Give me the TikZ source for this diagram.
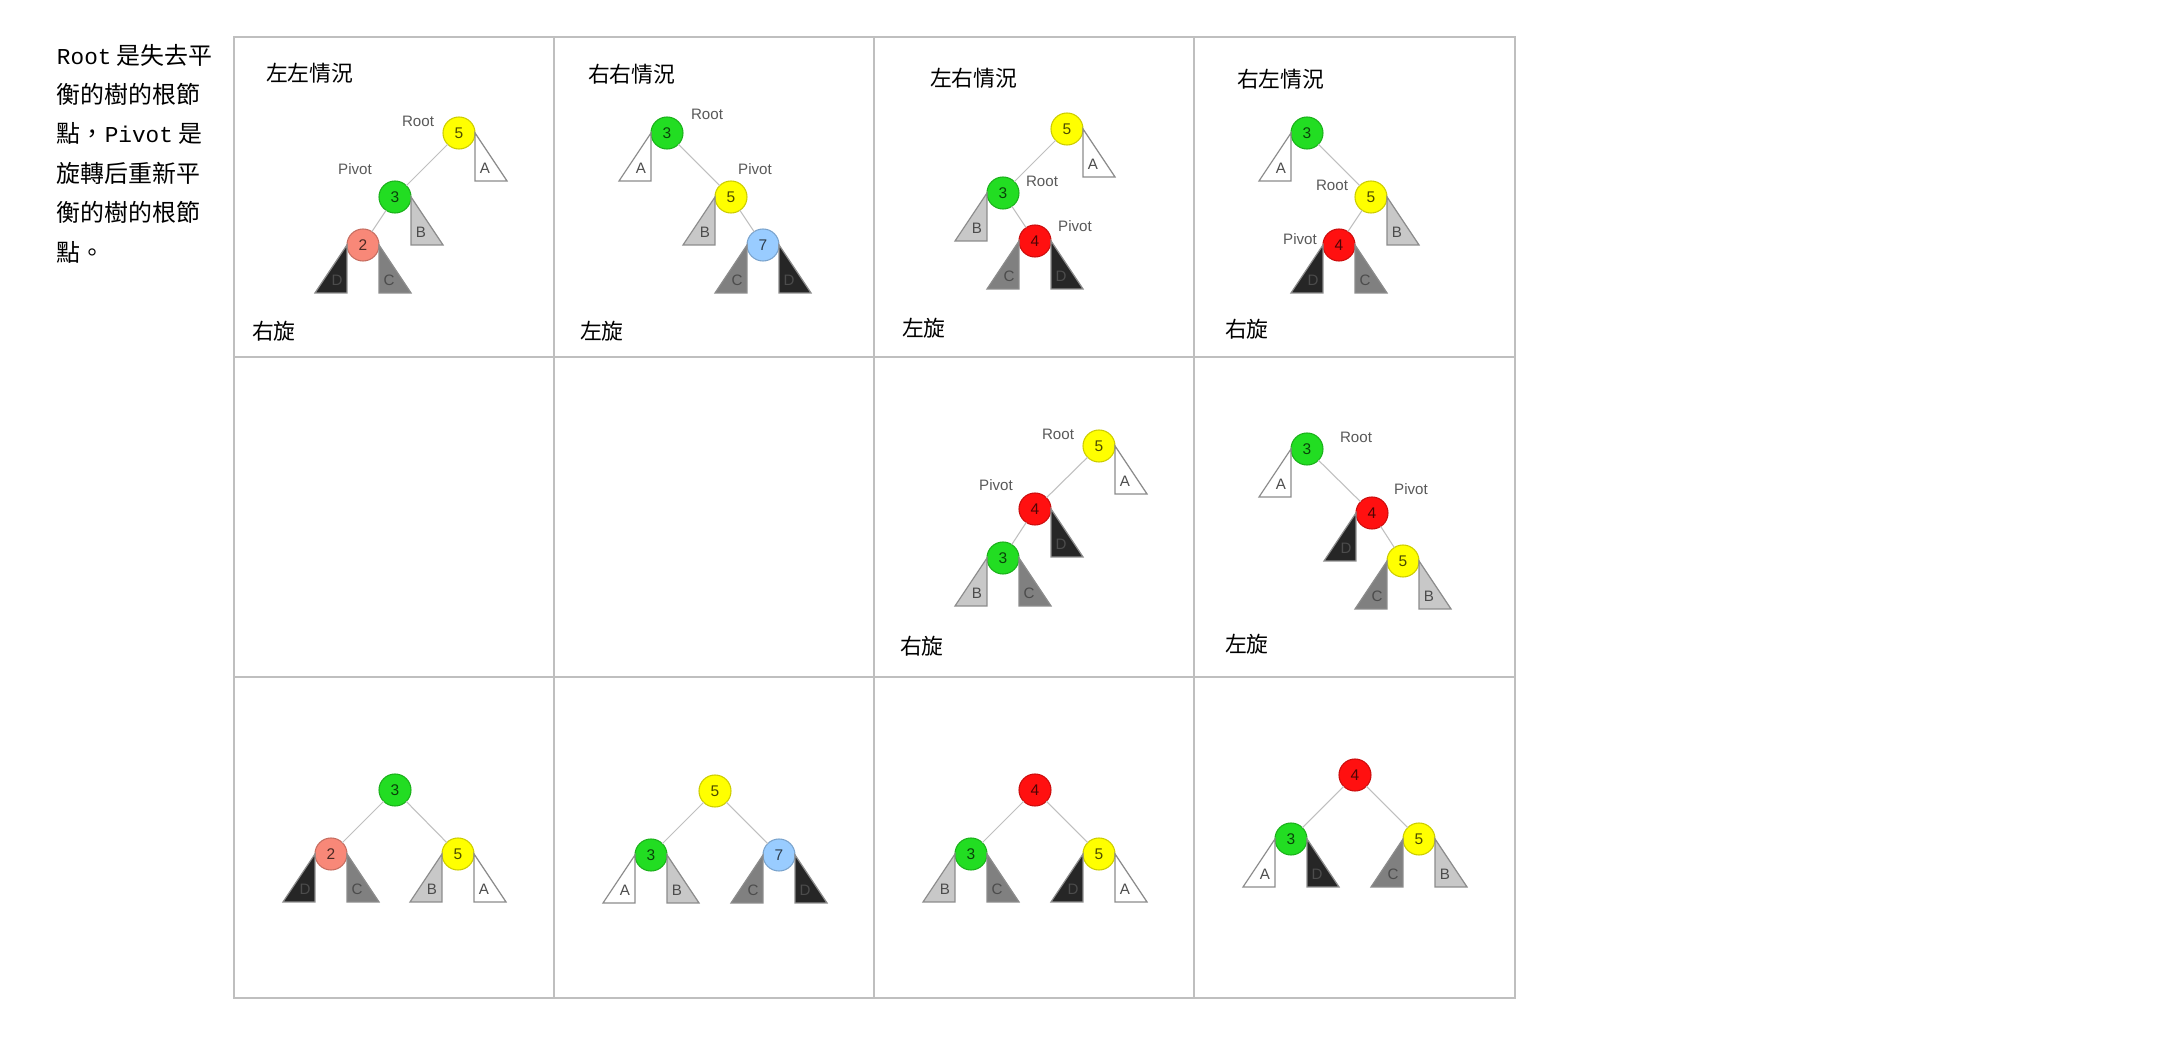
\documentclass[tikz,border=0pt]{standalone}
\usepackage{fontspec}
\setmainfont{Liberation Sans}
\newfontfamily\cjk{Noto Sans CJK TC}
\newfontfamily\monof[Scale=0.95]{Liberation Mono}
\definecolor{nyel}{HTML}{FFFF00}
\definecolor{ngrn}{HTML}{22DD22}
\definecolor{nsal}{HTML}{F88878}
\definecolor{nblu}{HTML}{99CCFF}
\definecolor{nred}{HTML}{FF1010}
\definecolor{tA}{HTML}{FFFFFF}
\definecolor{tB}{HTML}{C8C8C8}
\definecolor{tC}{HTML}{808080}
\definecolor{tD}{HTML}{262626}
\tikzset{
  every node/.style={inner sep=0pt, outer sep=0pt},
  nd/.style={circle, minimum size=0.32cm, draw=#1!80!black, fill=#1, line width=0.3pt,
     font=\fontsize{4.4pt}{5pt}\selectfont, text=#1!30!black},
  conn/.style={draw=black!25, line width=0.3pt},
  tri/.style={draw=black!45, line width=0.35pt},
  trl/.style={font=\fontsize{4.3pt}{5pt}\selectfont, text=black!70},
  lab/.style={font=\fontsize{4.3pt}{5pt}\selectfont, text=black!65},
  ttl/.style={anchor=west, font=\cjk\fontsize{6.2pt}{7pt}\selectfont},
  side/.style={anchor=west, font=\cjk\fontsize{6.8pt}{8pt}\selectfont},
  gridl/.style={draw=black!25, line width=0.5pt}
}
\newcommand{\subR}[4]{%
  \draw[tri, fill=#2] (#1.east) -- ++(0,48) -- ++(32,0) -- cycle;
  \node[trl] (#4) at ([shift={(10,35)}]#1.east) {#3};}
\newcommand{\subL}[4]{%
  \draw[tri, fill=#2] (#1.west) -- ++(0,48) -- ++(-32,0) -- cycle;
  \node[trl] (#4) at ([shift={(-10,35)}]#1.west) {#3};}
\begin{document}
\begin{tikzpicture}[x=0.01cm, y=-0.01cm]
\useasboundingbox[fill=white] (0,0) rectangle (2162,1058);
% grid
\draw[gridl] (234,37) rectangle (1515,998);
\foreach \gx in {554,874,1194} {\draw[gridl] (\gx,37) -- (\gx,998);}
\foreach \gy in {357,677} {\draw[gridl] (234,\gy) -- (1515,\gy);}
% side text
\node[side] (s1) at (57,55) {{\monof Root} 是失去平};
\node[side] (s2) at (57,94.4) {衡的樹的根節};
\node[side] (s3) at (57,133.8) {點，{\monof Pivot} 是};
\node[side] (s4) at (57,173.2) {旋轉后重新平};
\node[side] (s5) at (57,212.6) {衡的樹的根節};
\node[side] (s6) at (57,252) {點。};
% titles
\node[ttl] (t1) at (266,73) {左左情況};
\node[ttl] (t2) at (588,74) {右右情況};
\node[ttl] (t3) at (930,78) {左右情況};
\node[ttl] (t4) at (1237,79) {右左情況};
\node[ttl] (r1) at (252,331) {右旋};
\node[ttl] (r2) at (580,331) {左旋};
\node[ttl] (r3) at (902,328) {左旋};
\node[ttl] (r4) at (1225,329) {右旋};
\node[ttl] (r5) at (900,646) {右旋};
\node[ttl] (r6) at (1225,644) {左旋};
% ---- cell 1
\node[nd=nyel] (c1r) at (459,133) {5};
\node[nd=ngrn] (c1p) at (395,197) {3};
\node[nd=nsal] (c1x) at (363,245) {2};
\draw[conn] (c1r) -- (c1p); \draw[conn] (c1p) -- (c1x);
\subR{c1r}{tA}{A}{c1A}\subR{c1p}{tB}{B}{c1B}\subL{c1x}{tD}{D}{c1D}\subR{c1x}{tC}{C}{c1C}
\node[lab] (c1lr) at (418,121) {Root};
\node[lab] (c1lp) at (355,169) {Pivot};
% ---- cell 2
\node[nd=ngrn] (c2r) at (667,133) {3};
\node[nd=nyel] (c2p) at (731,197) {5};
\node[nd=nblu] (c2x) at (763,245) {7};
\draw[conn] (c2r) -- (c2p); \draw[conn] (c2p) -- (c2x);
\subL{c2r}{tA}{A}{c2A}\subL{c2p}{tB}{B}{c2B}\subL{c2x}{tC}{C}{c2C}\subR{c2x}{tD}{D}{c2D}
\node[lab] (c2lr) at (707,114) {Root};
\node[lab] (c2lp) at (755,169) {Pivot};
% ---- cell 3
\node[nd=nyel] (c3a) at (1067,129) {5};
\node[nd=ngrn] (c3r) at (1003,193) {3};
\node[nd=nred] (c3p) at (1035,241) {4};
\draw[conn] (c3a) -- (c3r); \draw[conn] (c3r) -- (c3p);
\subR{c3a}{tA}{A}{c3A}\subL{c3r}{tB}{B}{c3B}\subL{c3p}{tC}{C}{c3C}\subR{c3p}{tD}{D}{c3D}
\node[lab] (c3lr) at (1042,181) {Root};
\node[lab] (c3lp) at (1075,226) {Pivot};
% ---- cell 4
\node[nd=ngrn] (c4a) at (1307,133) {3};
\node[nd=nyel] (c4r) at (1371,197) {5};
\node[nd=nred] (c4p) at (1339,245) {4};
\draw[conn] (c4a) -- (c4r); \draw[conn] (c4r) -- (c4p);
\subL{c4a}{tA}{A}{c4A}\subR{c4r}{tB}{B}{c4B}\subL{c4p}{tD}{D}{c4D}\subR{c4p}{tC}{C}{c4C}
\node[lab] (c4lr) at (1332,185) {Root};
\node[lab] (c4lp) at (1300,239) {Pivot};
% ---- row 2 cell 3
\node[nd=nyel] (d3r) at (1099,446) {5};
\node[nd=nred] (d3p) at (1035,509) {4};
\node[nd=ngrn] (d3x) at (1003,558) {3};
\draw[conn] (d3r) -- (d3p); \draw[conn] (d3p) -- (d3x);
\subR{d3r}{tA}{A}{d3A}\subR{d3p}{tD}{D}{d3D}\subL{d3x}{tB}{B}{d3B}\subR{d3x}{tC}{C}{d3C}
\node[lab] (d3lr) at (1058,434) {Root};
\node[lab] (d3lp) at (996,485) {Pivot};
% ---- row 2 cell 4
\node[nd=ngrn] (d4r) at (1307,449) {3};
\node[nd=nred] (d4p) at (1372,513) {4};
\node[nd=nyel] (d4x) at (1403,561) {5};
\draw[conn] (d4r) -- (d4p); \draw[conn] (d4p) -- (d4x);
\subL{d4r}{tA}{A}{d4A}\subL{d4p}{tD}{D}{d4D}\subL{d4x}{tC}{C}{d4C}\subR{d4x}{tB}{B}{d4B}
\node[lab] (d4lr) at (1356,437) {Root};
\node[lab] (d4lp) at (1411,489) {Pivot};
% ---- row 3
\node[nd=ngrn] (e1t) at (395,790) {3};
\node[nd=nsal] (e1l) at (331,854) {2};
\node[nd=nyel] (e1r) at (458,854) {5};
\draw[conn] (e1t) -- (e1l); \draw[conn] (e1t) -- (e1r);
\subL{e1l}{tD}{D}{e1D}\subR{e1l}{tC}{C}{e1C}\subL{e1r}{tB}{B}{e1B}\subR{e1r}{tA}{A}{e1A}
\node[nd=nyel] (e2t) at (715,791) {5};
\node[nd=ngrn] (e2l) at (651,855) {3};
\node[nd=nblu] (e2r) at (779,855) {7};
\draw[conn] (e2t) -- (e2l); \draw[conn] (e2t) -- (e2r);
\subL{e2l}{tA}{A}{e2A}\subR{e2l}{tB}{B}{e2B}\subL{e2r}{tC}{C}{e2C}\subR{e2r}{tD}{D}{e2D}
\node[nd=nred] (e3t) at (1035,790) {4};
\node[nd=ngrn] (e3l) at (971,854) {3};
\node[nd=nyel] (e3r) at (1099,854) {5};
\draw[conn] (e3t) -- (e3l); \draw[conn] (e3t) -- (e3r);
\subL{e3l}{tB}{B}{e3B}\subR{e3l}{tC}{C}{e3C}\subL{e3r}{tD}{D}{e3D}\subR{e3r}{tA}{A}{e3A}
\node[nd=nred] (e4t) at (1355,775) {4};
\node[nd=ngrn] (e4l) at (1291,839) {3};
\node[nd=nyel] (e4r) at (1419,839) {5};
\draw[conn] (e4t) -- (e4l); \draw[conn] (e4t) -- (e4r);
\subL{e4l}{tA}{A}{e4A}\subR{e4l}{tD}{D}{e4D}\subL{e4r}{tC}{C}{e4C}\subR{e4r}{tB}{B}{e4B}
\end{tikzpicture}
\end{document}
